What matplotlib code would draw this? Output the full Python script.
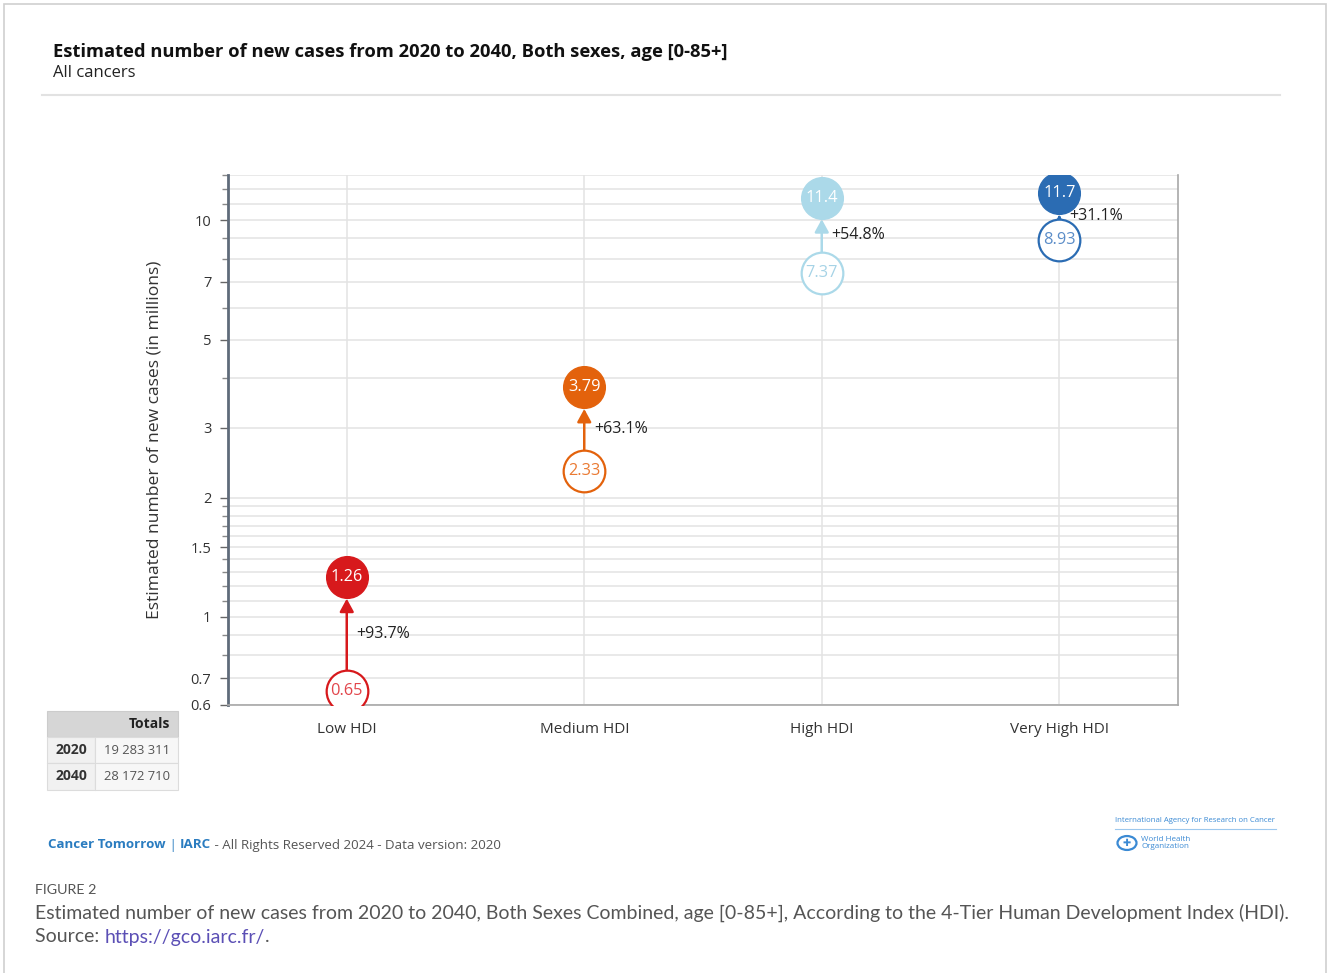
import numpy as np
import matplotlib
matplotlib.use("Agg")
import matplotlib.pyplot as plt
from matplotlib.patches import Rectangle, Circle
from matplotlib.lines import Line2D

plt.rcParams['font.family'] = ['Open Sans', 'DejaVu Sans']

# data (millions of new cases)
groups = ["Low HDI", "Medium HDI", "High HDI", "Very High HDI"]
cases_2020 = [0.65, 2.33, 7.37, 8.93]
cases_2040 = [1.26, 3.79, 11.4, 11.7]
pct_change = [93.7, 63.1, 54.8, 31.1]
colors = ["#d7191c", "#e3620c", "#abd9e9", "#2b6cb3"]
hollow_text = ["#e2454b", "#ea7a33", "#a6d3e6", "#5b8dc8"]

ytick_vals = [0.6, 0.7, 1, 1.5, 2, 3, 5, 7, 10]
grid_vals = [0.6, 0.7, 0.8, 0.9, 1.0, 1.1, 1.2, 1.3, 1.4, 1.5, 1.6, 1.7, 1.8, 1.9,
             2, 3, 4, 5, 6, 7, 8, 9, 10, 11, 12, 13]

totals_years = ["2020", "2040"]
totals_vals = ["19 283 311", "28 172 710"]

W, H = 1328, 973
fig = plt.figure(figsize=(W / 100, H / 100), dpi=100)
renderer = fig.canvas.get_renderer()


def fx(x):
    return x / W


def fy(y):
    return 1 - y / H


def text_run(x, y, pieces, **kw):
    # lay out (string, style) pieces one after another on a line
    for s, style in pieces:
        t = fig.text(fx(x), fy(y), s, va="center", **kw, **style)
        x = t.get_window_extent(renderer).x1


# outer frame and header
fig.add_artist(Rectangle((fx(4), fy(980)), fx(1322), fy(4) - fy(980), transform=fig.transFigure,
                         fill=False, ec="#cfcfcf", lw=1.2))
fig.text(fx(53), fy(52), "Estimated number of new cases from 2020 to 2040, Both sexes, age [0-85+]",
         fontsize=13.2, fontweight="bold", color="#111111", va="center")
fig.text(fx(53), fy(73), "All cancers", fontsize=12, color="#222222", va="center")
fig.add_artist(Line2D([fx(42), fx(1280)], [fy(95), fy(95)], transform=fig.transFigure,
                      color="#e2e2e2", lw=1.5))

# plot area
ax = fig.add_axes([fx(228), fy(705), fx(1178) - fx(228), fy(175) - fy(705)])
ax.set_yscale("log")
ax.set_ylim(0.6, 13)
ax.set_xlim(-0.5, 3.5)

for g in grid_vals:
    ax.axhline(g, color="#e3e3e3", lw=1.1, zorder=0)
for i in range(len(groups)):
    ax.axvline(i, color="#e3e3e3", lw=1.1, zorder=0)

ax.set_yticks(ytick_vals)
ax.set_yticklabels([f"{v:g}" for v in ytick_vals], fontsize=10.5, color="#333333")
ax.set_yticks(grid_vals, minor=True)
ax.yaxis.set_minor_formatter(plt.NullFormatter())
ax.tick_params(axis="y", which="major", length=6, width=1, color="#666666", pad=6)
ax.tick_params(axis="y", which="minor", length=4, width=1, color="#888888")
ax.set_xticks(range(len(groups)))
ax.set_xticklabels(groups, fontsize=11, color="#333333")
ax.tick_params(axis="x", length=0, pad=12)

ax.spines["top"].set_visible(False)
ax.spines["left"].set_color("#5f6b7a")
ax.spines["left"].set_linewidth(2)
ax.spines["bottom"].set_color("#a8a8a8")
ax.spines["bottom"].set_linewidth(1.2)
ax.spines["right"].set_color("#a8a8a8")
ax.spines["right"].set_linewidth(1.2)

ax.set_ylabel("Estimated number of new cases (in millions)", fontsize=12.6, color="#333333", labelpad=20)

msize = 30
rad_pt = msize / 2
for i, (a, b, p) in enumerate(zip(cases_2020, cases_2040, pct_change)):
    c = colors[i]
    ax.annotate("", xy=(i, b), xytext=(i, a),
                arrowprops=dict(arrowstyle="-|>,head_length=0.55,head_width=0.3", color=c, lw=1.8,
                                shrinkA=rad_pt, shrinkB=rad_pt + 0.5, mutation_scale=14),
                zorder=2)
    ax.plot(i, a, "o", ms=msize, mfc="white", mec=c, mew=1.6, zorder=3)
    ax.plot(i, b, "o", ms=msize, mfc=c, mec=c, mew=1, zorder=4)
    ax.text(i, a, f"{a:g}", ha="center", va="center", fontsize=11.8, color=hollow_text[i], zorder=5)
    ax.text(i, b, f"{b:g}", ha="center", va="center", fontsize=11.8, color="white", zorder=5)
    ax.annotate(f"+{p}%", xy=(i, np.sqrt(a * b)), xytext=(7, 0), textcoords="offset points",
                ha="left", va="center", fontsize=11.5, color="#222222", zorder=6)

# totals table
rows_y = [711, 737, 763, 790]
fig.add_artist(Rectangle((fx(47), fy(737)), fx(131), fy(711) - fy(737), transform=fig.transFigure,
                         fc="#d6d6d6", ec="#cccccc", lw=0.8))
for r in range(2):
    fig.add_artist(Rectangle((fx(47), fy(rows_y[r + 2])), fx(48), fy(rows_y[r + 1]) - fy(rows_y[r + 2]),
                             transform=fig.transFigure, fc="#f1f1f1", ec="#dcdcdc", lw=0.8))
    fig.add_artist(Rectangle((fx(95), fy(rows_y[r + 2])), fx(83), fy(rows_y[r + 1]) - fy(rows_y[r + 2]),
                             transform=fig.transFigure, fc="#f7f7f7", ec="#dcdcdc", lw=0.8))
    ymid = (rows_y[r + 1] + rows_y[r + 2]) / 2
    fig.text(fx(71), fy(ymid), totals_years[r], fontsize=10, fontweight="bold", color="#333333",
             ha="center", va="center")
    fig.text(fx(170), fy(ymid), totals_vals[r], fontsize=9.4, color="#555555", ha="right", va="center")
fig.text(fx(170), fy(724), "Totals", fontsize=10, fontweight="bold", color="#222222", ha="right", va="center")

# credits line
blue = {"color": "#2a7cc0", "fontweight": "bold"}
grey = {"color": "#555555"}
text_run(48, 845, [("Cancer Tomorrow", blue), (" | ", {"color": "#2a7cc0"}), ("IARC", blue),
                   (" - All Rights Reserved 2024 - Data version: 2020", grey)], fontsize=9.6)

# agency logo block
fig.text(fx(1115), fy(821), "International Agency for Research on Cancer", fontsize=5.6,
         color="#3b8ad4", va="center")
fig.add_artist(Line2D([fx(1115), fx(1276)], [fy(829), fy(829)], transform=fig.transFigure,
                      color="#9cc8ee", lw=0.8))
fig.add_artist(Circle((fx(1127), fy(843)), 9.5 / W, transform=fig.transFigure, fc="white",
                      ec="#3b8ad4", lw=1.6))
fig.text(fx(1127), fy(843), "✚", fontsize=7, color="#3b8ad4", ha="center", va="center")
fig.text(fx(1141), fy(843), "World Health\nOrganization", fontsize=5.8, color="#3b8ad4",
         va="center", linespacing=0.9)

# figure caption
fig.text(fx(35), fy(890), "FIGURE 2", fontsize=10.3, color="#555555", va="center", family="Lato")
fig.text(fx(35), fy(913),
         "Estimated number of new cases from 2020 to 2040, Both Sexes Combined, age [0-85+], "
         "According to the 4-Tier Human Development Index (HDI).",
         fontsize=14.0, color="#555555", va="center", family="Lato")
text_run(35, 937, [("Source: ", {"color": "#555555"}), ("https://gco.iarc.fr/", {"color": "#5b4fb5"}),
                   (".", {"color": "#555555"})], fontsize=14.0, family="Lato")

fig.savefig("out.png", dpi=100, facecolor="white")
